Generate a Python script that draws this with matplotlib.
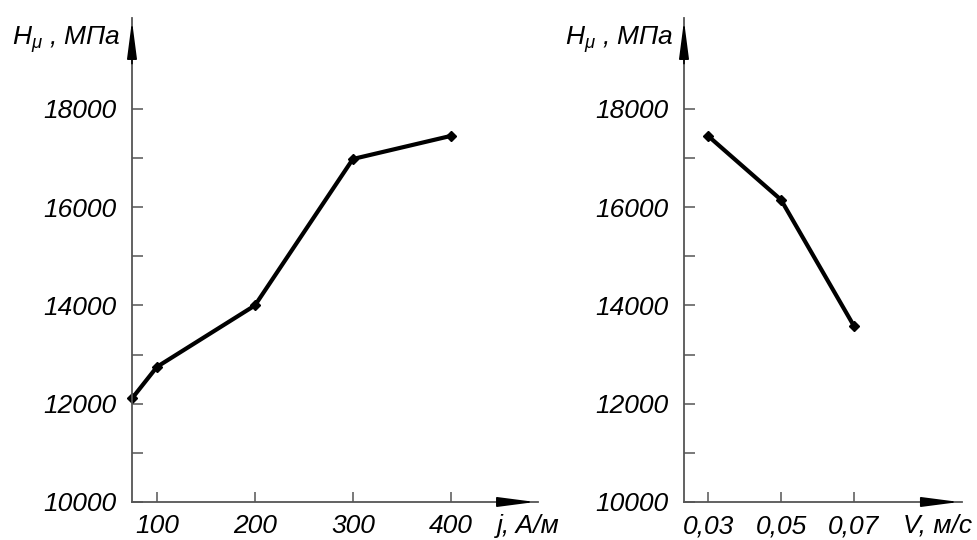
import matplotlib.pyplot as plt

plt.rcParams['font.family'] = ['Liberation Sans', 'DejaVu Sans']
plt.rcParams['font.style'] = 'italic'
plt.rcParams['mathtext.fontset'] = 'custom'
plt.rcParams['mathtext.it'] = 'Liberation Sans:italic'
plt.rcParams['mathtext.rm'] = 'Liberation Sans:italic'

# data
j_vals = [75, 100, 200, 300, 400]
h_j = [12120, 12750, 14000, 16980, 17450]
v_vals = [0.03, 0.05, 0.07]
h_v = [17450, 16150, 13580]

j_ticks = [100, 200, 300, 400]
v_ticks = [0.03, 0.05, 0.07]
v_ticklabels = ['0,03', '0,05', '0,07']
h_ticks = [10000, 12000, 14000, 16000, 18000]
h_minor = [11000, 13000, 15000, 17000]

fig = plt.figure(figsize=(9.77, 5.4), dpi=100)
ax1 = fig.add_axes([0.1351, 0.0704, 0.4156, 0.8963])
ax2 = fig.add_axes([0.7001, 0.0704, 0.2845, 0.8963])

axis_col = '#555555'


def style_axes(ax):
    for s in ['top', 'right']:
        ax.spines[s].set_visible(False)
    for s in ['left', 'bottom']:
        ax.spines[s].set_color(axis_col)
        ax.spines[s].set_linewidth(1.3)
    ax.set_yticks(h_ticks)
    ax.set_yticks(h_minor, minor=True)
    ax.set_yticklabels([str(t) for t in h_ticks])
    ax.tick_params(axis='y', which='both', direction='in', length=8,
                   width=1.1, color=axis_col, labelsize=19, pad=11.5)
    ax.tick_params(axis='x', which='both', direction='in', length=7,
                   width=1.1, color=axis_col, labelsize=19, pad=9)
    ax.set_ylim(10000, 19850)
    arrow = dict(arrowstyle='-|>,head_length=2.3,head_width=0.3',
                 color='black', lw=1.2, mutation_scale=10)
    ax.annotate('', xy=(1, 0), xytext=(0.9, 0), xycoords='axes fraction',
                arrowprops=arrow)
    ax.annotate('', xy=(0, 1), xytext=(0, 0.9), xycoords='axes fraction',
                arrowprops=arrow)


style_axes(ax1)
ax1.plot(j_vals, h_j, color='black', lw=3, marker='D', markersize=5,
         clip_on=False)
ax1.set_xlim(74.5, 489)
ax1.set_xticks(j_ticks)
ax1.set_xticklabels([str(t) for t in j_ticks])

style_axes(ax2)
ax2.plot(v_vals, h_v, color='black', lw=3, marker='D', markersize=5,
         clip_on=False)
ax2.set_xlim(0.0234, 0.0996)
ax2.set_xticks(v_ticks)
ax2.set_xticklabels(v_ticklabels)

# axis titles
fig.text(12 / 977, 1 - 40 / 540, r'$H_{\mu}$ , МПа', fontsize=19,
         va='center', ha='left')
fig.text(565 / 977, 1 - 40 / 540, r'$H_{\mu}$ , МПа', fontsize=19,
         va='center', ha='left')
fig.text(497 / 977, 1 - 526 / 540, 'j, A/м', fontsize=19,
         va='center', ha='left')
fig.text(903 / 977, 1 - 526 / 540, 'V, м/с', fontsize=19,
         va='center', ha='left')

plt.savefig('out.png', dpi=100)
